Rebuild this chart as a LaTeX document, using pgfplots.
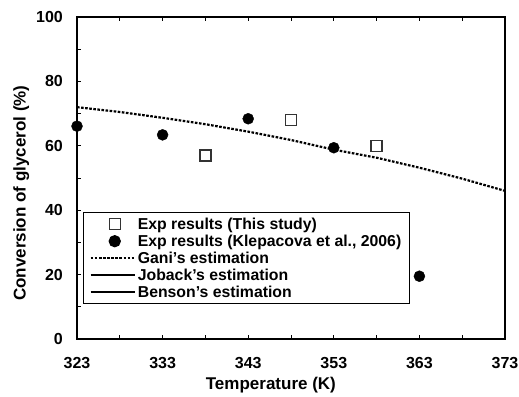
\documentclass[border=0pt]{standalone}
\usepackage{pgfplots}
\pgfplotsset{compat=1.18}
\usepackage{fontspec}
\setmainfont{Liberation Sans}
\pgfplotsset{
  lineleg/.style={legend image code/.code={\draw[##1] (0pt,0pt) -- (44pt,0pt);}},
  solidleg/.style={legend image code/.code={\draw[##1, solid, line width=1.8pt] (0pt,0pt) -- (44pt,0pt);}},
  markleg/.style={legend image code/.code={\draw[mark repeat=2,mark phase=2,##1] plot coordinates {(0pt,0pt) (24pt,0pt) (44pt,0pt)};}},
}
\begin{document}
\begin{tikzpicture}[x=1pt,y=1pt]
\begin{axis}[
  name=ax,
  scale only axis,
  width=428pt, height=322pt,
  xmin=323, xmax=373, ymin=0, ymax=100,
  xtick={323,333,343,353,363,373},
  ytick={0,20,40,60,80,100},
  minor xtick={328,338,348,358,368},
  minor ytick={10,30,50,70,90},
  tick align=inside,
  xtick pos=both, ytick pos=left,
  major tick length=4pt, minor tick length=4pt,
  axis line style={line width=1.8pt},
  every tick/.style={line width=1pt, black},
  /pgf/number format/assume math mode=true,
  /pgf/number format/set thousands separator={},
  tick label style={font=\fontsize{16}{18}\selectfont\bfseries},
  xticklabel style={anchor=center, inner sep=0pt, yshift=-24pt},
  yticklabel style={anchor=east, inner sep=0pt, xshift=-14pt},
  xlabel={Temperature (K)},
  ylabel={Conversion of glycerol (\%)},
  label style={font=\fontsize{17}{19}\selectfont\bfseries},
  xlabel style={at={(axis description cs:0.453,-0.143)}, anchor=center},
  ylabel style={at={(axis description cs:-0.13,0.453)}, anchor=center},
  clip=false,
  legend style={at={(0.014,0.394)}, anchor=north west, draw=black, line width=1.3pt,
    font=\fontsize{15.8}{17.3}\selectfont\bfseries, row sep=0pt, inner xsep=6pt, inner ysep=3pt,
    /tikz/every odd column/.style={xshift=5pt}},
  legend cell align=left,
]
\addplot[only marks, mark=square, mark size=5.5pt, draw=black!80, line width=1.3pt, markleg]
  coordinates {(338,57) (348,68) (358,60)};
\addlegendentry{Exp results (This study)}
\addplot[only marks, mark=*, mark size=5.5pt, black, markleg]
  coordinates {(323,66.1) (333,63.4) (343,68.4) (353,59.4) (363,19.5)};
\addlegendentry{Exp results (Klepacova et al., 2006)}
\addplot[black, line width=2.2pt, dash pattern=on 2.6pt off 1.5pt, lineleg]
  coordinates {(323,72) (328,70.5) (333,68.7) (338,66.7) (343,64.4) (348,61.8) (353,58.8) (358,56.3) (363,53.2) (368,49.8) (373,46)};
\addlegendentry{Gani's estimation}
\addplot[black, line width=2.6pt, dash pattern=on 22pt off 6pt, solidleg]
  coordinates {(323,0) (373,0)};
\addlegendentry{Joback's estimation}
\addplot[black, line width=2.6pt, dash pattern=on 22pt off 6pt, solidleg]
  coordinates {(323,0) (373,0)};
\addlegendentry{Benson's estimation}
\end{axis}
\pgfresetboundingbox
\path ([xshift=-77pt,yshift=-57pt]ax.south west) rectangle ([xshift=14pt,yshift=17pt]ax.north east);
\end{tikzpicture}
\end{document}
